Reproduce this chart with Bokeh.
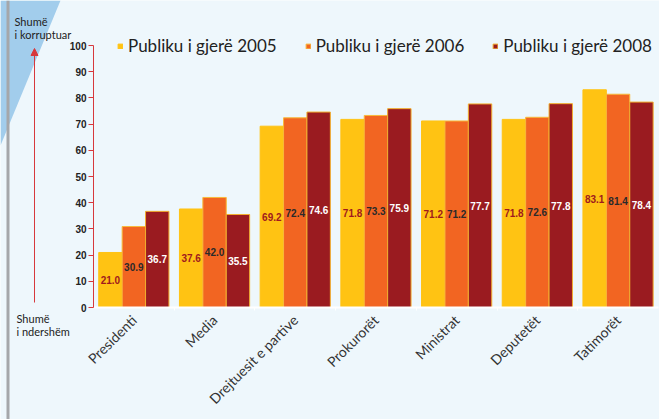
from math import pi
from bokeh.plotting import figure
from bokeh.models import (Range1d, FixedTicker, Label, Arrow, NormalHead, Span,
                          PolyAnnotation, ColumnDataSource, Legend, LegendItem)
from bokeh.transform import dodge
from bokeh.core.properties import value
from bokeh.embed import file_html
from bokeh.resources import INLINE

# ---- data ----
categories = ["Presidenti", "Media", "Drejtuesit e partive", "Prokurorët",
              "Ministrat", "Deputetët", "Tatimorët"]
v2005 = [21.0, 37.6, 69.2, 71.8, 71.2, 71.8, 83.1]
v2006 = [30.9, 42.0, 72.4, 73.3, 71.2, 72.6, 81.4]
v2008 = [36.7, 35.5, 74.6, 75.9, 77.7, 77.8, 78.4]
series_names = ["Publiku i gjerë 2005", "Publiku i gjerë 2006", "Publiku i gjerë 2008"]
y_ticks = [0, 10, 20, 30, 40, 50, 60, 70, 80, 90, 100]

# ---- styles / layout ----
BG = "#EEF7FC"
RED_AXIS = "#D7383C"
COLORS = ["#FFC313", "#F26522", "#9A1B20"]
LABEL_COLORS = ["#A0191E", "#2A2A2A", "#FFFFFF"]
OUTLINES = [None, "#F8B93A", "#F2AE2E"]

W, H = 659, 419
AXIS_X = 93          # pixel position of the value axis
PX_PER_CAT = 80.7
ZERO_Y = 307         # pixel row of value 0
PX_PER_UNIT = 2.62

n = len(categories)
centers = [i + 0.5 for i in range(n)]
src = ColumnDataSource(dict(
    x=centers,
    v2005=v2005, v2006=v2006, v2008=v2008,
    m2005=[v / 2 for v in v2005], m2006=[v / 2 for v in v2006], m2008=[v / 2 for v in v2008],
    t2005=[f"{v:.1f}" for v in v2005], t2006=[f"{v:.1f}" for v in v2006],
    t2008=[f"{v:.1f}" for v in v2008],
))

x_range = Range1d(-AXIS_X / PX_PER_CAT, (W - AXIS_X) / PX_PER_CAT)
y_range = Range1d(-(H - ZERO_Y) / PX_PER_UNIT, ZERO_Y / PX_PER_UNIT)

p = figure(x_range=x_range, y_range=y_range, width=W, height=H,
           output_backend="svg", toolbar_location=None, min_border=0,
           background_fill_color=BG, border_fill_color=BG, outline_line_color=None)
p.xgrid.visible = False
p.ygrid.visible = False

# left-side decorations (drawn first, behind everything)
p.add_layout(PolyAnnotation(xs=[0, 60, 0], ys=[H, H, H - 145], xs_units="screen",
                            ys_units="screen", fill_color="#A2CDEC", fill_alpha=1,
                            line_color=None, level="underlay"))
p.add_layout(Span(location=7.5, location_units="screen", dimension="height",
                  line_color="#A5A7AA", line_width=3, level="underlay"))

BW = 0.29
offsets = [-BW, 0, BW]
keys = ["2005", "2006", "2008"]
renderers = []
for k, off, col, lc, oc in zip(keys, offsets, COLORS, LABEL_COLORS, OUTLINES):
    r = p.vbar(x=dodge("x", off), top="v" + k, width=BW, source=src,
               fill_color=col, line_color=oc if oc else col, line_width=1)
    renderers.append(r)
    p.text(x=dodge("x", off), y="m" + k, text="t" + k, source=src,
           text_align="center", text_baseline="middle", text_font=value("Liberation Sans"),
           text_font_style="bold", text_font_size="10px", text_color=lc)

legend = Legend(items=[LegendItem(label=nm, renderers=[r]) for nm, r in zip(series_names, renderers)],
                orientation="horizontal", location=(117, H - 56), background_fill_alpha=0,
                border_line_color=None, padding=0, margin=0, spacing=28,
                glyph_width=6, glyph_height=6, label_standoff=5,
                label_text_font="Lato", label_text_font_size="17px",
                label_text_color="#222222")
p.add_layout(legend)

# y axis (drawn inside the frame at x = 0)
ya = p.yaxis[0]
ya.fixed_location = 0
ya.ticker = FixedTicker(ticks=y_ticks)
ya.bounds = (0, 100)
ya.axis_line_color = RED_AXIS
ya.major_tick_line_color = RED_AXIS
ya.major_tick_out = 5
ya.major_tick_in = 0
ya.minor_tick_line_color = None
ya.major_label_standoff = 2
ya.major_label_text_font = "Liberation Sans"
ya.major_label_text_font_style = "bold"
ya.major_label_text_font_size = "10px"
ya.major_label_text_color = "#222222"

# x axis (drawn at value 0)
xa = p.xaxis[0]
xa.fixed_location = 0
xa.ticker = FixedTicker(ticks=centers, minor_ticks=list(range(1, n)))
xa.major_label_overrides = {c: name for c, name in zip(centers, categories)}
xa.bounds = (0, n)
xa.axis_line_color = "white"
xa.axis_line_width = 2
xa.major_tick_line_color = None
xa.minor_tick_line_color = "white"
xa.minor_tick_out = 3
xa.minor_tick_in = 0
xa.major_label_orientation = pi / 4
xa.major_label_standoff = 4
xa.major_label_text_font = "Lato"
xa.major_label_text_font_size = "14px"
xa.major_label_text_color = "#333333"

for txt, x, y in [("Shumë", 14, H - 20.7), ("i korruptuar", 14, H - 34.3),
                  ("Shumë", 16, H - 317.7), ("i ndershëm", 16, H - 331)]:
    p.add_layout(Label(x=x, y=y, x_units="screen", y_units="screen", text=txt,
                       text_font="Lato", text_font_size="11px",
                       text_color="#222222", text_baseline="alphabetic"))
p.add_layout(Arrow(end=NormalHead(size=7, fill_color=RED_AXIS, line_color=RED_AXIS),
                   x_start=34, y_start=H - 302, x_end=34, y_end=H - 48,
                   start_units="screen", end_units="screen",
                   line_color=RED_AXIS, line_width=1))

open("out.html", "w").write(file_html(p, INLINE))
